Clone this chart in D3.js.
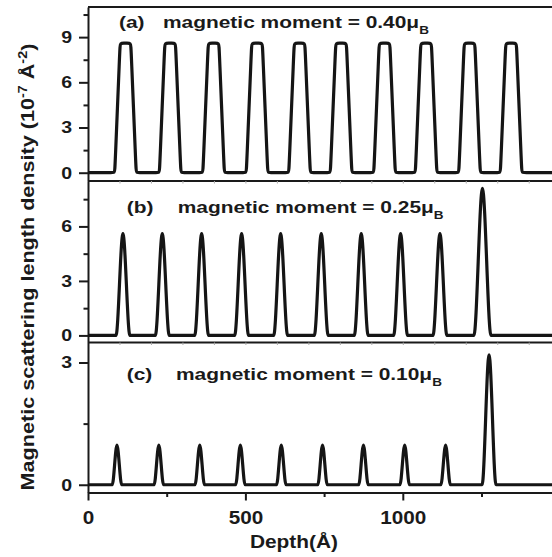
<!DOCTYPE html>
<html lang="en">
<head>
<meta charset="utf-8">
<title>Magnetic scattering length density profiles</title>
<script src="https://cdn.jsdelivr.net/npm/d3@7"></script>
<style>
    body { margin: 0; background: #fff; }
    svg text { font-family: "Liberation Sans", Arial, sans-serif; font-weight: bold; fill: #1a1a1a; }
    .axis path, .axis line { fill: none; stroke: #1a1a1a; stroke-width: 2; }
    .fine line { stroke: #aaa; stroke-width: 1; }
    .fine path { display: none; }
</style>
</head>
<body>
<div id="chart"></div>
<script>
// layer centres (Å), peak heights and half widths (Å)
var centersA = [119, 261, 399, 537, 672, 804, 942, 1074, 1212, 1344];
var heightsA = [8.6, 8.6, 8.6, 8.6, 8.6, 8.6, 8.6, 8.6, 8.6, 8.6];
var halfA    = [34, 34, 34, 34, 34, 34, 34, 34, 34, 34];
var topHalfA = 17;   // plateau half width at the top

var centersB = [111, 236, 361, 488, 612, 741, 868, 993, 1118, 1253];
var heightsB = [5.6, 5.6, 5.6, 5.6, 5.6, 5.6, 5.6, 5.6, 5.6, 8.1];
var halfB    = [22, 22, 22, 22, 22, 22, 22, 22, 22, 27];

var centersC = [92, 225, 355, 484, 614, 745, 875, 1006, 1136, 1274];
var heightsC = [0.97, 0.97, 0.97, 0.97, 0.97, 0.97, 0.97, 0.97, 0.97, 3.19];
var halfC    = [15, 15, 15, 15, 15, 15, 15, 15, 15, 22];

var yTicksA = [0, 3, 6, 9],  yMinorA = [1.5, 4.5, 7.5, 10.5];
var yTicksB = [0, 3, 6],     yMinorB = [1.5, 4.5, 7.5];
var yTicksC = [0, 3],        yMinorC = [1.5];
var xTicks = [0, 500, 1000], xMinor = [250, 750, 1250];
var moments = ["0.40", "0.25", "0.10"];
var letters = ["(a)", "(b)", "(c)"];

var w = 552, h = 557;
var xMax = 1480;
var svg = d3.select("#chart").append("svg")
            .attr("width", w)
            .attr("height", h);

var x = d3.scaleLinear().domain([0, xMax]).range([88, 88 + 0.3148 * xMax]);

// build the vertex list of one profile from its layers
function profile(centers, heights, half, topHalf) {
    var pts = [[0, 0]];
    centers.forEach(function(c, i) {
        pts.push([c - half[i], 0]);
        if (topHalf) {
            pts.push([c - topHalf, heights[i]]);
            pts.push([c + topHalf, heights[i]]);
        } else {
            pts.push([c, heights[i]]);
        }
        pts.push([c + half[i], 0]);
    });
    pts.push([xMax, 0]);
    return pts;
}

// add a point on each side of every corner (in pixels) so the B-spline
// rounds the corners a little but keeps the straight parts straight
function roundCorners(pts, r) {
    var out = [pts[0], pts[0]];
    for (var i = 1; i < pts.length - 1; i++) {
        var p = pts[i], a = pts[i - 1], b = pts[i + 1];
        var l1 = Math.hypot(p[0] - a[0], p[1] - a[1]);
        var l2 = Math.hypot(b[0] - p[0], b[1] - p[1]);
        var rr = Math.min(r, l1 / 2, l2 / 2);
        out.push([p[0] - rr * (p[0] - a[0]) / l1, p[1] - rr * (p[1] - a[1]) / l1]);
        out.push(p);
        out.push([p[0] + rr * (b[0] - p[0]) / l2, p[1] + rr * (b[1] - p[1]) / l2]);
    }
    out.push(pts[pts.length - 1], pts[pts.length - 1]);
    return out;
}

// stretch text horizontally (the original figure is wider than its fonts)
function stretch(sel, sx) {
    sel.each(function() {
        var t = d3.select(this);
        var tx = +t.attr("x") || 0, ty = +t.attr("y") || 0;
        t.attr("x", 0).attr("y", 0)
         .attr("transform", "translate(" + tx + "," + ty + ") scale(" + sx + ",1)");
    });
}

var panels = [
    {top: 7,     bottom: 181,   domain: [-0.55, 11],  ticks: yTicksA, minor: yMinorA, plateau: true,
     data: profile(centersA, heightsA, halfA, topHalfA), lx: 119, tx: 163, ty: 28},
    {top: 181,   bottom: 342.5, domain: [-0.39, 8.5], ticks: yTicksB, minor: yMinorB,
     data: profile(centersB, heightsB, halfB, 0), lx: 126.7, tx: 177.7, ty: 213},
    {top: 342.5, bottom: 492.5, domain: [-0.19, 3.49], ticks: yTicksC, minor: yMinorC,
     data: profile(centersC, heightsC, halfC, 0), lx: 126.7, tx: 176, ty: 380}
];

panels.forEach(function(p, k) {
    var y = d3.scaleLinear().domain(p.domain).range([p.bottom, p.top]);

    // left spine with major and minor ticks
    var ax = svg.append("g")
       .attr("class", "axis")
       .attr("transform", "translate(88,0)")
       .call(d3.axisLeft(y).tickValues(p.ticks).tickSize(9).tickSizeOuter(0)
               .tickPadding(7).tickFormat(d3.format("d")));
    ax.selectAll("text").attr("font-size", 17);
    stretch(ax.selectAll("text"), 1.15);

    svg.append("g")
       .attr("class", "axis")
       .attr("transform", "translate(88,0)")
       .call(d3.axisLeft(y).tickValues(p.minor).tickSize(4.5).tickFormat(""))
       .select(".domain").remove();

    // top border line of the panel
    svg.append("line")
       .attr("x1", x(0)).attr("x2", w + 5)
       .attr("y1", p.top).attr("y2", p.top)
       .attr("stroke", "#1a1a1a").attr("stroke-width", 2);

    // faint ticks hanging from the panel separators
    if (k > 0) {
        svg.append("g")
           .attr("class", "fine")
           .attr("transform", "translate(0," + p.top + ")")
           .call(d3.axisBottom(x).tickValues(d3.range(100, xMax, 100)).tickSize(2.5).tickFormat(""));
    }

    var pix = p.data.map(function(d) { return [x(d[0]), y(d[1])]; });
    var d = p.plateau
        ? d3.line().curve(d3.curveBasis)(roundCorners(pix, 4))
        : d3.line().curve(d3.curveMonotoneX)(pix);
    svg.append("path")
       .attr("d", d)
       .attr("fill", "none")
       .attr("stroke", "#151515")
       .attr("stroke-width", 3.2)
       .attr("stroke-linejoin", "round");

    // panel annotation
    svg.append("text")
       .attr("font-size", 17)
       .attr("transform", "translate(" + p.lx + "," + p.ty + ") scale(1.23,1)")
       .text(letters[k]);
    var t = svg.append("text")
       .attr("font-size", 17)
       .attr("transform", "translate(" + p.tx + "," + p.ty + ") scale(1.23,1)")
       .text("magnetic moment = " + moments[k] + "\u03bc");
    t.append("tspan").attr("font-size", 11).attr("dy", 6).text("B");
});

// bottom axis
var xa = svg.append("g")
   .attr("class", "axis")
   .attr("transform", "translate(0,492.5)")
   .call(d3.axisBottom(x).tickValues(xTicks).tickSize(8).tickSizeOuter(0)
           .tickPadding(11).tickFormat(d3.format("d")));
xa.selectAll("text").attr("font-size", 18);
stretch(xa.selectAll("text"), 1.15);
svg.append("g")
   .attr("class", "axis")
   .attr("transform", "translate(0,492.5)")
   .call(d3.axisBottom(x).tickValues(xMinor).tickSize(4.5).tickFormat(""))
   .select(".domain").remove();

// axis titles
svg.append("text")
   .attr("font-size", 18.5)
   .attr("text-anchor", "middle")
   .attr("transform", "translate(294,548) scale(1.13,1)")
   .text("Depth(\u00c5)");

var yt = svg.append("text")
   .attr("font-size", 18)
   .attr("text-anchor", "middle")
   .attr("transform", "translate(34,267) rotate(-90) scale(1.2,1)");
yt.append("tspan").text("Magnetic scattering length density (10");
yt.append("tspan").attr("font-size", 12).attr("dy", -7).text("-7");
yt.append("tspan").attr("dy", 7).text(" \u00c5");
yt.append("tspan").attr("font-size", 12).attr("dy", -7).text("-2");
yt.append("tspan").attr("dy", 7).text(")");
</script>
</body>
</html>
